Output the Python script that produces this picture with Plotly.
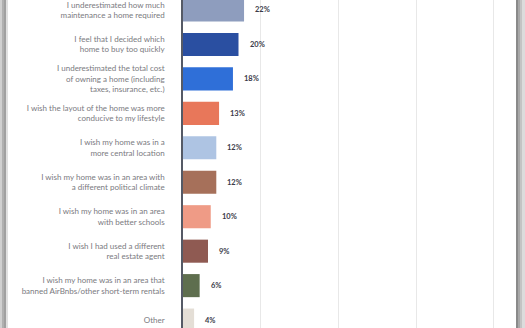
import plotly.graph_objects as go

categories = [
    "I underestimated how much<br>maintenance a home required",
    "I feel that I decided which<br>home to buy too quickly",
    "I underestimated the total cost<br>of owning a home (including<br>taxes, insurance, etc.)",
    "I wish the layout of the home was more<br>conducive to my lifestyle",
    "I wish my home was in a<br>more central location",
    "I wish my home was in an area with<br>a different political climate",
    "I wish my home was in an area<br>with better schools",
    "I wish I had used a different<br>real estate agent",
    "I wish my home was in an area that<br>banned AirBnbs/other short-term rentals",
    "Other",
]
values = [22, 20, 18, 13, 12, 12, 10, 9, 6, 4]
labels = ["22%", "20%", "18%", "13%", "12%", "12%", "10%", "9%", "6%", "4%"]
colors = ["#8E9DBE", "#2A4FA1", "#2F6FD8", "#E8775A", "#AEC4E3",
          "#A6705A", "#EF9B86", "#8F5A52", "#5E6E4E", "#E4DED6"]

fig = go.Figure()
fig.add_trace(go.Bar(
    x=values, y=categories, orientation="h",
    marker=dict(color=colors, line=dict(width=0)),
    width=0.67, hoverinfo="skip",
))

for v, c, t in zip(values, categories, labels):
    fig.add_annotation(x=v, y=c, text=t, showarrow=False, xanchor="left",
                       xshift=9, font=dict(family="Lato", size=7.5, color="#3a3a48",
                                           weight="bold"))

fig.update_layout(
    width=525, height=328,
    margin=dict(l=183, r=9, t=0, b=0),
    paper_bgcolor="white", plot_bgcolor="white",
    showlegend=False,
    font=dict(family="Lato", size=8, color="#7a7a80"),
    xaxis=dict(range=[0, 120], dtick=28, showticklabels=False, showgrid=True,
               gridcolor="#e8e8e8", gridwidth=1, zeroline=False, showline=False,
               fixedrange=True),
    yaxis=dict(categoryorder="array", categoryarray=categories,
               range=[9.23, -0.29], showline=True, linecolor="#555a66",
               linewidth=1.5, ticks="", ticklabelstandoff=15, showgrid=False,
               tickfont=dict(family="Lato", size=8, color="#7a7a80"),
               fixedrange=True),
)

# card shadows at the picture edges
w = 333.0
def px(p):
    return (p - 183) / w
shadow_left = [(0, 2, "#d0d0d0"), (2, 4, "#b0b0b0"), (4, 6, "#a0a0a0"), (6, 8, "#e0e0e0")]
shadow_right = [(516, 518, "#8a8a8a"), (518, 520, "#a8a8a8"), (520, 522, "#c4c4c4"), (522, 525, "#dcdcdc")]
for a, b, col in shadow_left + shadow_right:
    fig.add_shape(type="rect", xref="paper", yref="paper", x0=px(a), x1=px(b),
                  y0=-0.01, y1=1.01, fillcolor=col, line=dict(width=0), layer="above")

fig.write_html("out.html")
